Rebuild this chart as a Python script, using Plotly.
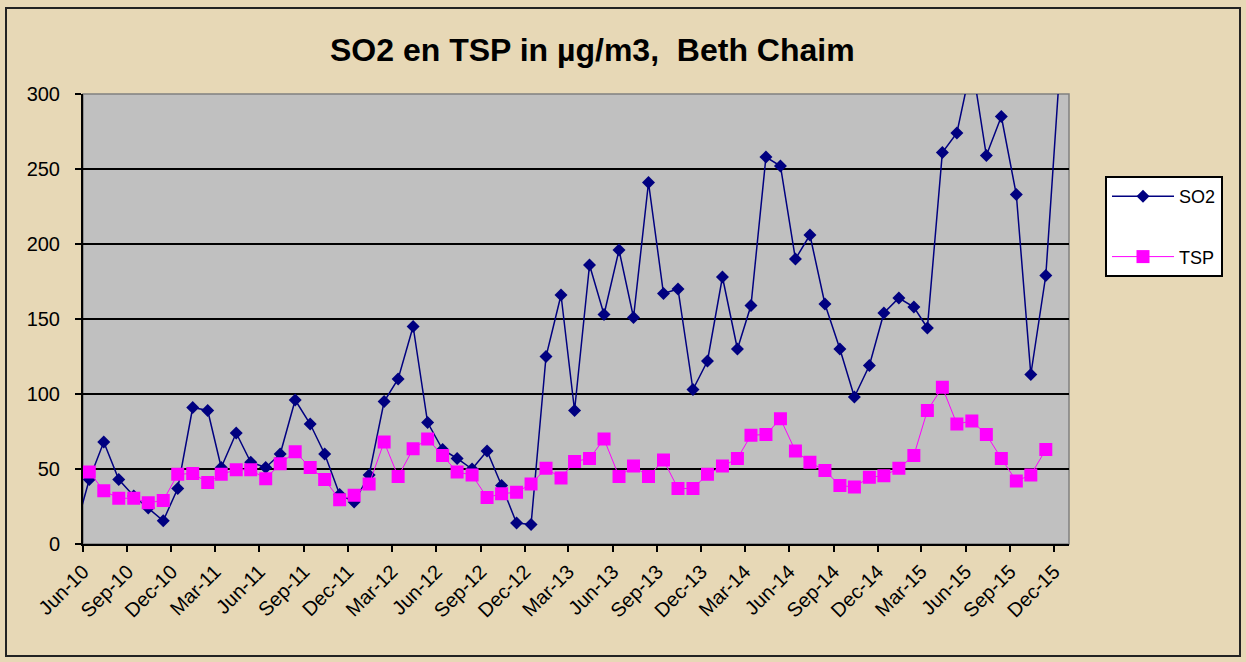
import plotly.graph_objects as go
import pandas as pd

# Monthly categories (first one, May-10, lies just left of the visible axis range)
months = [
    "2010-05", "2010-06", "2010-07", "2010-08", "2010-09", "2010-10", "2010-11", "2010-12",
    "2011-01", "2011-02", "2011-03", "2011-04", "2011-05", "2011-06",
    "2011-07", "2011-08", "2011-09", "2011-10", "2011-11", "2011-12",
    "2012-01", "2012-02", "2012-03", "2012-04", "2012-05", "2012-06",
    "2012-07", "2012-08", "2012-09", "2012-10", "2012-11", "2012-12",
    "2013-01", "2013-02", "2013-03", "2013-04", "2013-05", "2013-06",
    "2013-07", "2013-08", "2013-09", "2013-10", "2013-11", "2013-12",
    "2014-01", "2014-02", "2014-03", "2014-04", "2014-05", "2014-06",
    "2014-07", "2014-08", "2014-09", "2014-10", "2014-11", "2014-12",
    "2015-01", "2015-02", "2015-03", "2015-04", "2015-05", "2015-06",
    "2015-07", "2015-08", "2015-09", "2015-10", "2015-11", "2015-12",
]

so2 = [
    7, 43, 68, 43, 32, 24, 15.5, 37,
    91, 89, 51, 74, 54.5, 51,
    60, 96, 80, 60, 33, 28,
    46, 95, 110, 145, 81, 63,
    57, 50, 62, 39, 14, 13,
    125, 166, 89, 186, 153, 196,
    151, 241, 167, 170, 103, 122,
    178, 130, 159, 258, 252, 190,
    206, 160, 130, 98, 119, 154,
    164, 158, 144, 261, 274, 321,
    259, 285, 233, 113, 179, 322,
]

tsp = [
    None, 48, 35.5, 30.5, 30.5, 27.5, 29, 46.5,
    47, 41, 46.5, 49.5, 49.5, 43.5,
    53.5, 61.5, 51, 43, 29.5, 32.5,
    40, 68, 45, 63.5, 70, 59,
    48, 46, 31, 33.5, 34.5, 40,
    50.5, 44, 55, 57, 70, 45,
    52, 45, 56, 37, 37, 46.5,
    52, 57, 72.5, 73, 83.5, 62,
    54.5, 49, 39, 38, 44.5, 45.5,
    50.5, 59, 89, 104.5, 80, 82,
    73, 57, 42, 46, 63, None,
]

# points sit mid-month on the date axis
x = pd.to_datetime(months) + pd.Timedelta(days=13)

W, H = 1246, 662
L, R, T, B = 83, 177, 94, 118
pw, ph = W - L - R, H - T - B

def px_x(p):
    return (p - L) / pw

def px_y(p):
    return (H - B - p) / ph

fig = go.Figure()
fig.add_trace(go.Scatter(
    x=x, y=so2, name="SO2", mode="lines+markers",
    line=dict(color="#000080", width=1.5),
    marker=dict(symbol="diamond", size=10, color="#000080"),
    legendgroup="a",
))
fig.add_trace(go.Scatter(
    x=x, y=tsp, name="TSP", mode="lines+markers",
    line=dict(color="#FF00FF", width=1),
    marker=dict(symbol="square", size=13, color="#FF00FF"),
    legendgroup="b",
))

fig.update_layout(
    width=W, height=H,
    margin=dict(l=L, r=R, t=T, b=B, pad=0),
    paper_bgcolor="#E7D8B6",
    plot_bgcolor="#C0C0C0",
    font=dict(family="Liberation Sans, Arial, sans-serif", color="black"),
    showlegend=True,
    legend=dict(
        x=px_x(1105), y=px_y(176), xanchor="left", yanchor="top",
        bgcolor="white", bordercolor="black", borderwidth=2,
        font=dict(size=18, color="black"),
        tracegroupgap=34, itemwidth=62,
    ),
    annotations=[dict(
        text="<b>SO2 en TSP in µg/m3,  Beth Chaim</b>",
        x=px_x(592), y=px_y(50), xref="paper", yref="paper",
        xanchor="center", yanchor="middle", showarrow=False,
        font=dict(size=32, color="black"),
    )],
    shapes=[
        dict(type="rect", xref="paper", yref="paper",
             x0=px_x(6), x1=px_x(1240), y0=px_y(656), y1=px_y(8),
             line=dict(color="#222222", width=2), layer="below"),
        dict(type="rect", xref="paper", yref="paper",
             x0=0, x1=1, y0=0, y1=1,
             line=dict(color="#808080", width=1.5), layer="below"),
    ],
)

fig.update_xaxes(
    type="date",
    range=["2010-06-01", "2016-01-01"],
    tick0="2010-06-01", dtick="M3", tickformat="%b-%y",
    tickangle=-45,
    ticks="outside", ticklen=6, tickwidth=1.5, tickcolor="black",
    tickfont=dict(size=20, color="black"),
    showgrid=False, zeroline=False,
    showline=True, linecolor="black", linewidth=2,
)
fig.update_yaxes(
    range=[0, 300], dtick=50, tick0=0,
    ticks="outside", ticklen=6, tickwidth=1.5, tickcolor="black",
    tickfont=dict(size=20, color="black"),
    showgrid=True, gridcolor="black", gridwidth=1.5,
    zeroline=False,
    showline=True, linecolor="black", linewidth=2,
    ticklabelstandoff=11,
)

fig.write_html(
    "out.html",
    config={"displayModeBar": False},
    post_script="document.body.style.margin='0';document.body.style.padding='0';",
)
